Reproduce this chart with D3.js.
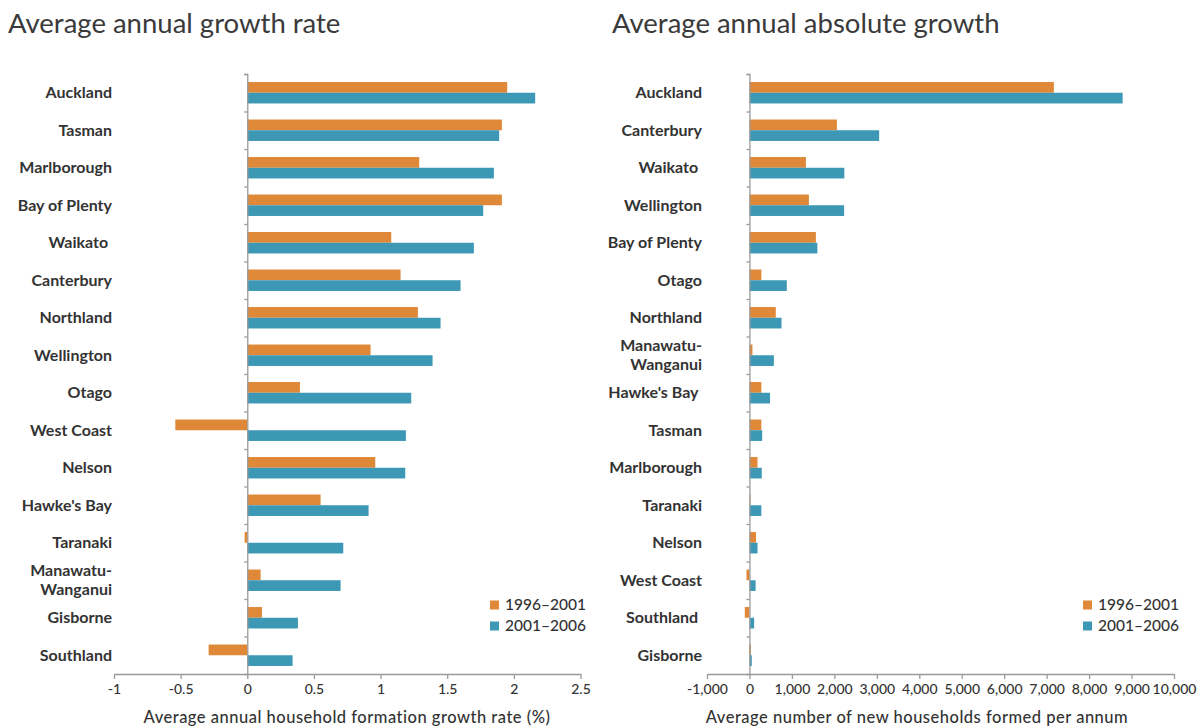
<!DOCTYPE html>
<html>
<head>
<meta charset="utf-8">
<script src="https://cdn.jsdelivr.net/npm/d3@7/dist/d3.min.js"></script>
<style>
  html, body { margin: 0; padding: 0; background: #fff; }
  svg { display: block; font-family: Lato, "Open Sans", sans-serif; }
</style>
</head>
<body>
<svg id="chart" width="1198" height="727"></svg>
<script>
// ---------- DATA ----------
const seriesNames = ["1996–2001", "2001–2006"];

// Left chart: average annual growth rate (%)
const rateCategories = ["Auckland", "Tasman", "Marlborough", "Bay of Plenty", "Waikato\u00a0", "Canterbury",
  "Northland", "Wellington", "Otago", "West Coast", "Nelson", "Hawke's Bay", "Taranaki",
  "Manawatu-|Wanganui", "Gisborne", "Southland"];
const rate1996_2001 = [1.95, 1.91, 1.29, 1.91, 1.08, 1.15, 1.28, 0.925, 0.395, -0.54, 0.96, 0.55, -0.02, 0.10, 0.11, -0.29];
const rate2001_2006 = [2.16, 1.89, 1.85, 1.77, 1.70, 1.60, 1.45, 1.39, 1.23, 1.19, 1.185, 0.91, 0.72, 0.70, 0.38, 0.34];
const rateTicks = [-1, -0.5, 0, 0.5, 1, 1.5, 2, 2.5];
const rateTickLabels = ["-1", "-0.5", "0", "0.5", "1", "1.5", "2", "2.5"];

// Right chart: average annual absolute growth (households)
const absCategories = ["Auckland", "Canterbury", "Waikato\u00a0", "Wellington", "Bay of Plenty", "Otago",
  "Northland", "Manawatu-|Wanganui", "Hawke's Bay\u00a0", "Tasman", "Marlborough", "Taranaki",
  "Nelson", "West Coast", "Southland\u00a0", "Gisborne"];
const abs1996_2001 = [7170, 2060, 1330, 1400, 1565, 280, 620, 70, 280, 280, 190, 20, 155, -70, -110, 35];
const abs2001_2006 = [8790, 3055, 2235, 2230, 1600, 880, 755, 575, 485, 300, 290, 280, 190, 145, 110, 55];
const absTicks = [-1000, 0, 1000, 2000, 3000, 4000, 5000, 6000, 7000, 8000, 9000, 10000];
const absTickLabels = ["-1,000", "0", "1,000", "2,000", "3,000", "4,000", "5,000", "6,000", "7,000", "8,000", "9,000", "10,000"];

const titles = ["Average annual growth rate", "Average annual absolute growth"];
const axisTitles = ["Average annual household formation growth rate (%)", "Average number of new households formed per annum"];

// ---------- STYLE ----------
const colors = ["#DF8837", "#3D98B6"];
const textColor = "#333";
const axisColor = "#9a9a9a";

const svg = d3.select("#chart");
svg.append("rect").attr("width", 1198).attr("height", 727).attr("fill", "#fff");

function drawPanel(cfg) {
  const g = svg.append("g");
  const x = d3.scaleLinear().domain(cfg.domain).range(cfg.xRange);
  const y = d3.scaleBand().domain(cfg.categories).range([74, 674]).paddingInner(0).paddingOuter(0);
  const sub = d3.scaleBand().domain(seriesNames).range([0, y.bandwidth()]).paddingInner(0).paddingOuter(0.75);

  // title
  g.append("text").attr("x", cfg.titleX).attr("y", 33)
    .attr("font-size", 27.5).attr("fill", "#3a3a3a").attr("font-weight", 400)
    .text(cfg.title);

  // bars
  const seriesData = [cfg.s1, cfg.s2];
  seriesData.forEach((vals, si) => {
    g.selectAll(null).data(cfg.categories).enter().append("rect")
      .attr("x", (d, i) => x(Math.min(0, vals[i])))
      .attr("width", (d, i) => Math.abs(x(vals[i]) - x(0)))
      .attr("y", d => y(d) + sub(seriesNames[si]))
      .attr("height", sub.bandwidth())
      .attr("fill", colors[si]);
  });

  // vertical axis line with ticks at band boundaries
  const yb = d3.scaleLinear().domain([0, cfg.categories.length]).range([74, 674]);
  const yAxis = g.append("g").attr("transform", `translate(${x(0)},0)`)
    .call(d3.axisLeft(yb).tickValues(d3.range(0, cfg.categories.length)).tickSize(3).tickFormat(""));
  yAxis.select(".domain").attr("stroke", axisColor).attr("stroke-width", 1.3);
  yAxis.selectAll(".tick line").attr("stroke", axisColor).attr("stroke-width", 1.3);

  // x axis
  const xAxis = g.append("g").attr("transform", "translate(0,674)")
    .call(d3.axisBottom(x).tickValues(cfg.ticks).tickSize(5).tickPadding(5)
      .tickFormat((d, i) => cfg.tickLabels[i]).tickSizeOuter(0));
  xAxis.select(".domain").attr("stroke", axisColor).attr("stroke-width", 1.3);
  xAxis.selectAll(".tick line").attr("stroke", axisColor).attr("stroke-width", 1.3);
  xAxis.selectAll(".tick text").attr("fill", textColor).attr("font-size", 14)
    .attr("font-family", "Lato, sans-serif").attr("font-weight", 500);

  // axis title
  g.append("text").attr("x", cfg.axisTitleX).attr("y", 723)
    .attr("text-anchor", "middle").attr("font-size", 16.5).attr("fill", textColor).attr("font-weight", 500)
    .attr("letter-spacing", 0.5)
    .text(cfg.axisTitle);

  // category labels
  const labels = g.selectAll(null).data(cfg.categories).enter().append("text")
    .attr("text-anchor", "end")
    .attr("font-size", 16).attr("font-weight", 700).attr("fill", textColor)
    .attr("y", d => y(d) + y.bandwidth() / 2);
  labels.each(function(d) {
    const parts = d.split("|");
    const t = d3.select(this);
    parts.forEach((p, k) => {
      t.append("tspan").attr("x", cfg.labelX)
        .attr("dy", k === 0 ? (parts.length === 1 ? "0.35em" : "-0.25em") : "1.2em")
        .text(p);
    });
  });

  // legend
  const lg = g.append("g").attr("transform", `translate(${cfg.legendX},${605})`);
  seriesNames.forEach((s, i) => {
    lg.append("rect").attr("x", 0).attr("y", i * 21 - 4.5).attr("width", 9).attr("height", 9).attr("fill", colors[i]);
    lg.append("text").attr("x", 15).attr("y", i * 21).attr("dy", "0.35em")
      .attr("font-size", 15.5).attr("font-weight", 500).attr("fill", textColor).text(s);
  });
}

drawPanel({
  categories: rateCategories, s1: rate1996_2001, s2: rate2001_2006,
  domain: [-1, 2.5], xRange: [114, 580.5], ticks: rateTicks, tickLabels: rateTickLabels,
  title: titles[0], titleX: 8, axisTitle: axisTitles[0], axisTitleX: 347,
  labelX: 112, legendX: 490
});
drawPanel({
  categories: absCategories, s1: abs1996_2001, s2: abs2001_2006,
  domain: [-1000, 10000], xRange: [707, 1174], ticks: absTicks, tickLabels: absTickLabels,
  title: titles[1], titleX: 612, axisTitle: axisTitles[1], axisTitleX: 917,
  labelX: 702, legendX: 1083
});
</script>
</body>
</html>
